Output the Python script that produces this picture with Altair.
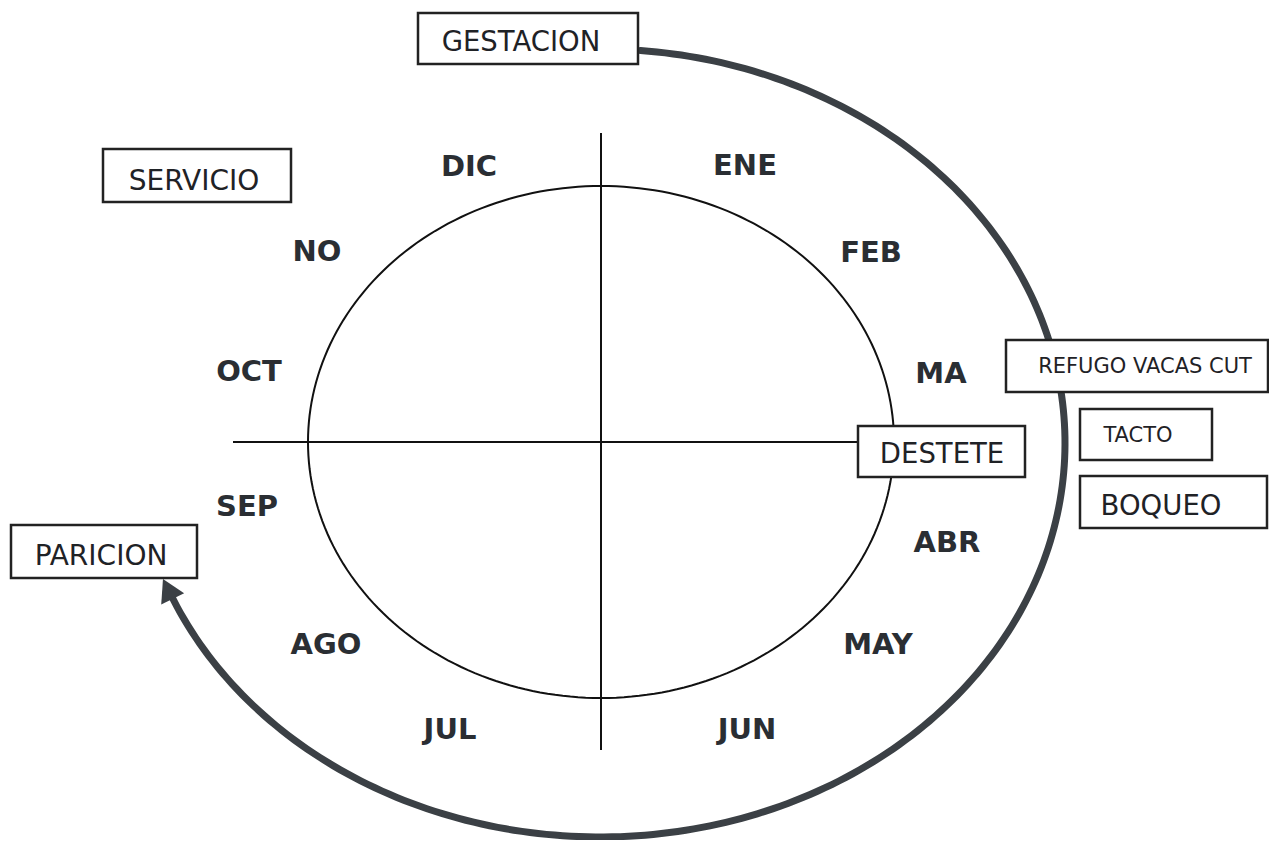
import altair as alt
import pandas as pd
import numpy as np

# ---- month labels around the inner ellipse ----
month_labels = ["ENE", "FEB", "MA", "ABR", "MAY", "JUN", "JUL", "AGO", "SEP", "OCT", "NO", "DIC"]
month_x = [745, 871, 941, 947, 878, 747, 450, 326, 247, 249, 317, 469]
month_y = [166, 253, 374, 543, 645, 730, 730, 645, 507, 372, 252, 167]

# ---- boxed activity labels ----
box_labels = ["GESTACION", "SERVICIO", "REFUGO VACAS CUT", "TACTO", "DESTETE", "BOQUEO", "PARICION"]
box_x1 = [418, 103, 1006, 1080, 858, 1080, 11]
box_x2 = [638, 291, 1268, 1212, 1025, 1267, 197]
box_y1 = [13, 149, 340, 409, 426, 476, 525]
box_y2 = [64, 202, 392, 460, 477, 528, 578]
box_text_x = [521, 194, 1145, 1138, 942, 1161, 101]
box_text_y = [43, 182, 367, 436, 455, 507, 557]
box_font = [27.5, 28, 21, 21, 27.5, 27.5, 28]

# ---- geometry of the diagram ----
inner = dict(cx=601, cy=442, rx=293, ry=256)
outer = dict(cx=600, cy=443, rx=465, ry=394, t0=-85.0, t1=157.5)
vline = dict(x=601, y1=133, y2=750)
hline = dict(y=442, x1=233, x2=858)
arrow_tip = dict(x=163, y=579)

INK = "#1f2226"
ARC = "#3b4045"

xs = alt.Scale(domain=[8, 1269], nice=False, zero=False)
ys = alt.Scale(domain=[8, 840], nice=False, zero=False, reverse=True)


def X(f):
    return alt.X(f, type="quantitative", scale=xs, axis=None)


def Y(f):
    return alt.Y(f, type="quantitative", scale=ys, axis=None)


# inner ellipse outline
t = np.linspace(0, 2 * np.pi, 241)
inner_df = pd.DataFrame({
    "x": inner["cx"] + inner["rx"] * np.cos(t),
    "y": inner["cy"] + inner["ry"] * np.sin(t),
    "i": np.arange(len(t)),
})
inner_layer = alt.Chart(inner_df).mark_line(color="#111", strokeWidth=2).encode(
    x=X("x"), y=Y("y"), order=alt.Order("i:Q"))

# outer cycle arc
ta = np.radians(np.linspace(outer["t0"], outer["t1"], 240))
outer_df = pd.DataFrame({
    "x": outer["cx"] + outer["rx"] * np.cos(ta),
    "y": outer["cy"] + outer["ry"] * np.sin(ta),
    "i": np.arange(len(ta)),
})
outer_layer = alt.Chart(outer_df).mark_line(color=ARC, strokeWidth=7, strokeCap="round").encode(
    x=X("x"), y=Y("y"), order=alt.Order("i:Q"))

# arrowhead at the end of the arc
tend = np.radians(outer["t1"])
dx = -outer["rx"] * np.sin(tend)
dy = outer["ry"] * np.cos(tend)
ang = (np.degrees(np.arctan2(dx, -dy))) % 360
L = np.hypot(dx, dy)
h = 22.0
head_df = pd.DataFrame({"x": [arrow_tip["x"] - dx / L * h / 2],
                        "y": [arrow_tip["y"] - dy / L * h / 2]})
head_layer = alt.Chart(head_df).mark_point(
    shape="triangle-up", filled=True, size=650, angle=float(ang), color=ARC, opacity=1
).encode(x=X("x"), y=Y("y"))

# axes cross
v_df = pd.DataFrame({"x": [vline["x"]], "y": [vline["y1"]], "y2": [vline["y2"]]})
v_layer = alt.Chart(v_df).mark_rule(color="#111", strokeWidth=2).encode(
    x=X("x"), y=Y("y"), y2="y2")
h_df = pd.DataFrame({"x": [hline["x1"]], "x2": [hline["x2"]], "y": [hline["y"]]})
h_layer = alt.Chart(h_df).mark_rule(color="#111", strokeWidth=2).encode(
    x=X("x"), x2="x2", y=Y("y"))

# boxes
box_df = pd.DataFrame({"label": box_labels, "x1": box_x1, "x2": box_x2,
                       "y1": box_y1, "y2": box_y2, "tx": box_text_x,
                       "ty": box_text_y, "fs": box_font})
box_layer = alt.Chart(box_df).mark_rect(fill="white", stroke="#222", strokeWidth=2.5).encode(
    x=X("x1"), x2="x2", y=Y("y1"), y2="y2")
box_text = alt.Chart(box_df).mark_text(
    font="DejaVu Sans", color=INK, align="center", baseline="middle"
).encode(x=X("tx"), y=Y("ty"), text="label:N",
         size=alt.Size("fs:Q", scale=None, legend=None))

# month labels
m_df = pd.DataFrame({"label": month_labels, "x": month_x, "y": month_y})
month_layer = alt.Chart(m_df).mark_text(
    font="DejaVu Sans", fontWeight="bold", fontSize=29, color="#2a2e33",
    align="center", baseline="middle"
).encode(x=X("x"), y=Y("y"), text="label:N")

chart = alt.layer(
    inner_layer, v_layer, h_layer, outer_layer, head_layer,
    box_layer, box_text, month_layer
).properties(
    width=1261, height=832, padding=0,
    autosize=alt.AutoSizeParams(type="none"),
    background="white",
).configure_view(stroke=None)

chart.save("out.html", embed_options={"renderer": "svg", "actions": False})
